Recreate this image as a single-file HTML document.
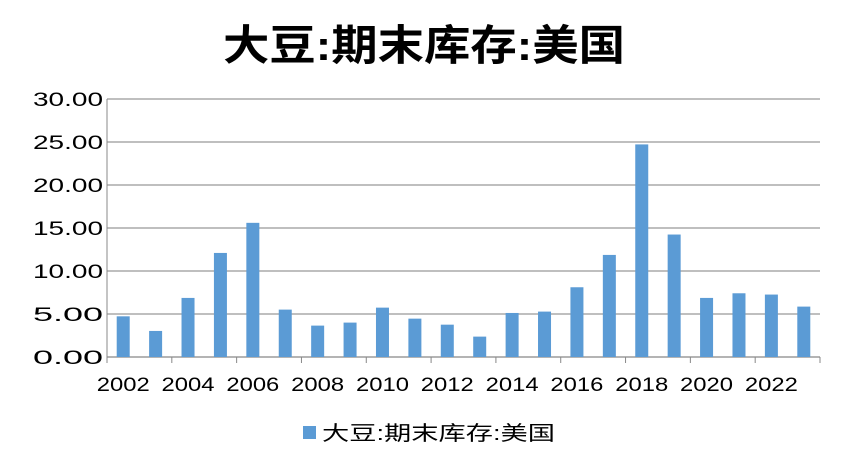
<!DOCTYPE html>
<html><head><meta charset="utf-8"><style>
body{margin:0;background:#fff;font-family:"Liberation Sans","Noto Sans CJK SC",sans-serif;}
</style></head><body>
<svg width="847" height="467" viewBox="0 0 847 467">
<text x="424" y="60" text-anchor="middle" font-size="42" font-weight="bold" textLength="402" lengthAdjust="spacingAndGlyphs" font-family="Liberation Sans, Noto Sans CJK SC, sans-serif">大豆:期末库存:美国</text>
<g id="grid"></g><g id="bars"></g><g id="axes"></g>
<rect x="303" y="426" width="13" height="13" fill="#5b9bd5"/>
<text x="322" y="440" font-size="20" textLength="233" lengthAdjust="spacingAndGlyphs" font-family="Liberation Sans, Noto Sans CJK SC, sans-serif">大豆:期末库存:美国</text>
</svg>
<script>
const years=[2002,2003,2004,2005,2006,2007,2008,2009,2010,2011,2012,2013,2014,2015,2016,2017,2018,2019,2020,2021,2022,2023];
const values=[4.73,3.03,6.87,12.1,15.6,5.51,3.65,4.0,5.74,4.46,3.76,2.37,5.12,5.28,8.11,11.87,24.72,14.24,6.87,7.41,7.26,5.86];
const ticks=[0,5,10,15,20,25,30];
const NS="http://www.w3.org/2000/svg";
const X0=107,X1=820,Y0=357,Y1=99,YMAX=30;
const cw=(X1-X0)/years.length;
const y=v=>Y0-(v/YMAX)*(Y0-Y1);
const xc=i=>X0+cw*(i+0.5);
function mk(t,a,p){const e=document.createElementNS(NS,t);for(const k in a)e.setAttribute(k,a[k]);p.appendChild(e);return e;}
const g=document.getElementById('grid'),b=document.getElementById('bars'),ax=document.getElementById('axes');
ticks.forEach(t=>{
 const l=mk('line',{x1:X0,x2:X1,y1:y(t),y2:y(t),stroke:t===0?'#888':'#999','stroke-width':1.2},g);
 
 
 const tx=mk('text',{x:X0-4,y:y(t)+7,'text-anchor':'end','font-size':19,textLength:70,lengthAdjust:'spacingAndGlyphs'},ax);
 tx.textContent=t.toFixed(2);
 
 
});
const va=mk('line',{x1:X0,x2:X0,y1:Y1,y2:Y0,stroke:'#888'},ax);


values.forEach((v,i)=>{
 const r=mk('rect',{x:xc(i)-6.5,y:y(v),width:13,height:Y0-y(v),fill:'#5b9bd5'},b);
 
 
});
for(let i=0;i<=years.length;i+=2){
 const tk=mk('line',{x1:X0+cw*i,x2:X0+cw*i,y1:Y0,y2:Y0+6,stroke:'#888'},ax);
 
 
}
years.forEach((yr,i)=>{
 if(i%2)return;
 const t=mk('text',{x:xc(i),y:Y0+34,'text-anchor':'middle','font-size':19,textLength:53,lengthAdjust:'spacingAndGlyphs'},ax);
 t.textContent=yr;
 
 
});
</script>
</body></html>
